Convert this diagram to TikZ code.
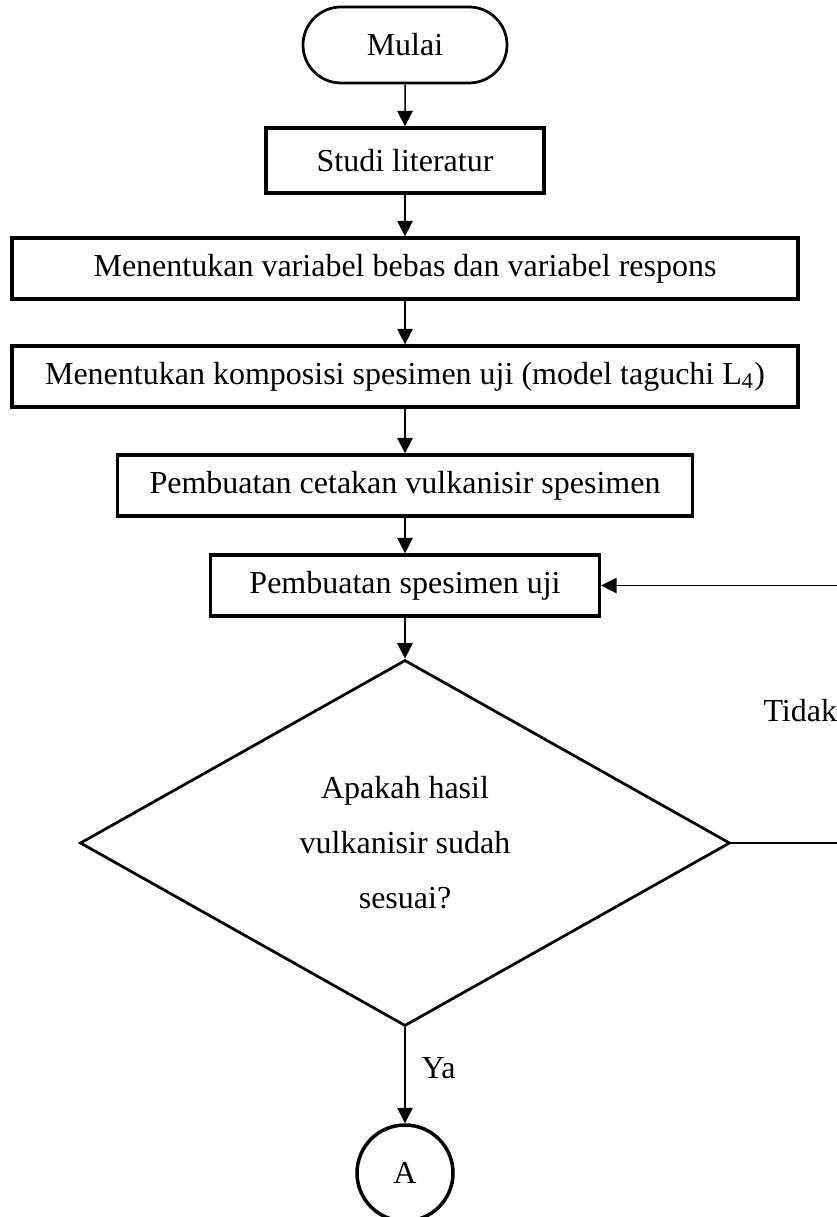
\documentclass[tikz,border=0pt]{standalone}
\usepackage{fontspec}
\setmainfont{Liberation Serif}
\usetikzlibrary{shapes.geometric,shapes.misc,arrows.meta}
\begin{document}
\begin{tikzpicture}[x=0.4pt,y=-0.4pt,
  every node/.style={font=\fontsize{12.8}{15}\selectfont},
  procbox/.style={draw,line width=1.3pt,minimum height=24.4pt,inner sep=0pt},
  termbox/.style={draw,rounded rectangle,line width=1.1pt,minimum width=81.6pt,minimum height=30.4pt,inner sep=0pt},
  decbox/.style={draw,diamond,line width=1.1pt,minimum width=260pt,minimum height=146.4pt,inner sep=0pt,align=center,font=\fontsize{12.8}{22}\selectfont},
  endcirc/.style={draw,circle,line width=1.4pt,minimum size=38.4pt,inner sep=0pt},
  conn/.style={line width=0.6pt,-{Triangle[length=6.2pt,width=6.2pt]}},
  lbl/.style={anchor=west,inner sep=0pt}]
\useasboundingbox (0,0) rectangle (837,1217);
\node[termbox] (mulai) at (405,45) {Mulai};
\node[procbox,minimum width=111.2pt,minimum height=26pt] (studi) at (405,160.5) {Studi literatur};
\node[procbox,minimum width=314.4pt] (var) at (405,268.5) {Menentukan variabel bebas dan variabel respons};
\node[procbox,minimum width=314.4pt] (komp) at (405,376.5) {Menentukan komposisi spesimen uji (model taguchi L\textsubscript{4})};
\node[procbox,minimum width=230pt] (cetak) at (405,485.5) {Pembuatan cetakan vulkanisir spesimen};
\node[procbox,minimum width=155.6pt] (spes) at (405,585.5) {Pembuatan spesimen uji};
\node[decbox] (cek) at (405,843) {Apakah hasil\\vulkanisir sudah\\sesuai?};
\node[endcirc] (A) at (405,1173) {A};
\node[lbl] (ya) at (421,1068) {Ya};
\node[lbl] (tidak) at (763,711) {Tidak};
\coordinate (r1) at (880,843);
\coordinate (r2) at (880,585.5);
\draw[conn] (mulai) -- (studi);
\draw[conn] (studi) -- (var);
\draw[conn] (var) -- (komp);
\draw[conn] (komp) -- (cetak);
\draw[conn] (cetak) -- (spes);
\draw[conn] (spes) -- (cek);
\draw[conn] (cek) -- (A);
\draw[conn] (cek.east) -- (r1) -- (r2) -- (spes.east);
\end{tikzpicture}
\end{document}
